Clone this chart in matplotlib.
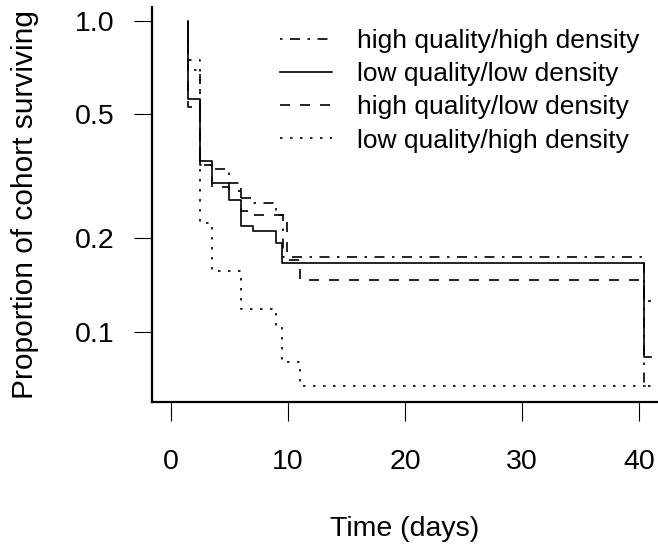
import matplotlib
matplotlib.use("Agg")
import matplotlib.pyplot as plt

plt.rcParams['font.family'] = ['Liberation Sans', 'DejaVu Sans']
plt.rcParams['lines.scale_dashes'] = False

# survival steps: times (days) at which the proportion drops, and the proportion after each drop
t_hqhd = [1.5, 2.5, 3.5, 5, 6, 7, 9, 9.55, 40.4]
s_hqhd = [0.695, 0.345, 0.333, 0.30, 0.270, 0.26, 0.237, 0.174, 0.0667]

t_lqld = [1.5, 2.5, 3.5, 5, 6, 7, 9, 9.5, 40.4]
s_lqld = [0.561, 0.354, 0.301, 0.265, 0.219, 0.211, 0.193, 0.166, 0.083]

t_hqld = [1.5, 2.5, 3.5, 5, 6, 7, 9.9, 11, 40.4]
s_hqld = [0.527, 0.345, 0.293, 0.283, 0.245, 0.237, 0.170, 0.1465, 0.125]

t_lqhd = [1.5, 2.5, 3.5, 6, 9, 9.5, 11]
s_lqhd = [0.749, 0.223, 0.157, 0.118, 0.104, 0.080, 0.0667]

t_end = 41.05

labels = ['high quality/high density', 'low quality/low density',
          'high quality/low density', 'low quality/high density']
styles = [(0, (1.8, 5.4, 7.2, 5.4)), '-', (0, (7.2, 7.2)), (0, (1.8, 5.4))]


def steps(t, s):
    x = [t[0]] + list(t) + [t_end]
    y = [1.0] + list(s) + [s[-1]]
    return x, y


fig = plt.figure(figsize=(6.58, 5.56), dpi=100)
W, H = 658, 556
ax = fig.add_axes([152 / W, 1 - 402 / H, (658 - 152) / W, (402 - 6.7) / H])

handles = []
for (t, s), lab, ls in zip([(t_hqhd, s_hqhd), (t_lqld, s_lqld), (t_hqld, s_hqld), (t_lqhd, s_lqhd)],
                           labels, styles):
    x, y = steps(t, s)
    h, = ax.step(x, y, where='post', color='black', lw=1.2, linestyle=ls, label=lab)
    handles.append(h)

ax.set_yscale('log')
ax.set_ylim(10 ** -1.227, 10 ** 0.046)
ax.set_xlim(-1.6, 41.61)
ax.set_yticks([0.1, 0.2, 0.5, 1.0])
ax.set_yticklabels(['0.1', '0.2', '0.5', '1.0'])
ax.yaxis.set_minor_locator(matplotlib.ticker.NullLocator())
ax.set_xticks([0, 10, 20, 30, 40])

for side in ['top', 'right']:
    ax.spines[side].set_visible(False)
for side in ['left', 'bottom']:
    ax.spines[side].set_linewidth(1.6)

ax.tick_params(axis='y', length=13, width=0.8, pad=14, labelsize=20.5)
ax.tick_params(axis='x', length=14, width=0.8, pad=19.5, labelsize=20.5)

ax.set_ylabel('Proportion of cohort surviving', fontsize=21.5, labelpad=26)
ax.set_xlabel('Time (days)', fontsize=20.5, labelpad=30)

ax.legend(handles=handles, loc='upper left', bbox_to_anchor=(280 / W, 1 - 29 / H),
          bbox_transform=fig.transFigure, frameon=False, fontsize=19,
          handlelength=1.97, handletextpad=0.95, labelspacing=0.35, borderpad=0,
          borderaxespad=0)

fig.savefig('out.png', dpi=100)
